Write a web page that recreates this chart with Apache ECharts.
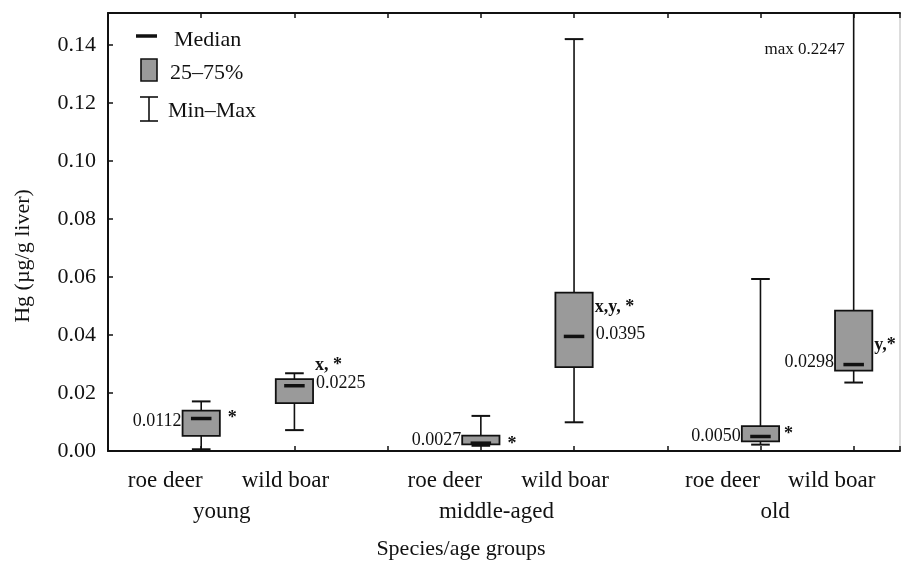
<!DOCTYPE html>
<html>
<head>
<meta charset="utf-8">
<script src="https://cdn.jsdelivr.net/npm/echarts@6/dist/echarts.min.js"></script>
<style>
  html, body { margin: 0; padding: 0; background: #ffffff; }
  #chart { width: 901px; height: 561px; }
</style>
</head>
<body>
<div id="chart"></div>
<script>
// Hg concentration in liver (µg/g) by species and age group
const species = ['roe deer', 'wild boar', 'roe deer', 'wild boar', 'roe deer', 'wild boar'];
const ageGroups = ['young', 'middle-aged', 'old'];
const slots = [1, 2, 4, 5, 7, 8];          // slot of each box on the x scale
const groupSlots = [1.5, 4.5, 7.5];        // centre slot of each age group

const minVals    = [0.0006, 0.0072, 0.0018, 0.0099, 0.0022, 0.0236];
const q1Vals     = [0.0052, 0.0165, 0.0023, 0.0289, 0.0033, 0.0277];
const medianVals = [0.0112, 0.0225, 0.0027, 0.0395, 0.0050, 0.0298];
const q3Vals     = [0.0139, 0.0248, 0.0053, 0.0546, 0.0086, 0.0484];
const maxVals    = [0.0171, 0.0268, 0.0121, 0.1420, 0.0593, 0.2247];

const marks = ['*', 'x, *', '*', 'x,y, *', '*', 'y,*'];
const yTicks = [0, 0.02, 0.04, 0.06, 0.08, 0.10, 0.12, 0.14];

// placement of the text beside each box
const labelLayout = [
  { medSide: 'left',  medDy: 3,  markAt: 'median', markDx: 8, markDy: 0 },
  { medSide: 'right', medDy: -2, markAt: 'max',    markDx: 2, markDy: -8 },
  { medSide: 'left',  medDy: -3, markAt: 'q1',     markDx: 8, markDy: 0 },
  { medSide: 'right', medDy: -2, markAt: 'q3',     markDx: 2, markDy: 15 },
  { medSide: 'left',  medDy: 0,  markAt: 'median', markDx: 5, markDy: -2 },
  { medSide: 'left',  medDy: -2, markAt: 'median', markDx: 2, markDy: -19 }
];

const FONT = '"Liberation Serif", "Times New Roman", serif';
const INK = '#111111';
const BOX_FILL = '#9a9a9a';

const chart = echarts.init(document.getElementById('chart'), null, { renderer: 'canvas' });

const boxData = slots.map((s, i) => [s, minVals[i], q1Vals[i], medianVals[i], q3Vals[i], maxVals[i], i]);

function renderBox(params, api) {
  const x = api.value(0);
  const unit = api.size([1, 0])[0];
  const half = unit * 0.2;
  const capHalf = unit * 0.1;
  const medHalf = unit * 0.11;
  const pMin = api.coord([x, api.value(1)]);
  const pQ1 = api.coord([x, api.value(2)]);
  const pMed = api.coord([x, api.value(3)]);
  const pQ3 = api.coord([x, api.value(4)]);
  const pMax = api.coord([x, api.value(5)]);
  const cx = pMed[0];
  const lineStyle = { stroke: INK, lineWidth: 1.6 };
  const children = [
    { type: 'line', shape: { x1: cx, y1: pQ1[1], x2: cx, y2: pMin[1] }, style: lineStyle },
    { type: 'line', shape: { x1: cx, y1: pQ3[1], x2: cx, y2: pMax[1] }, style: lineStyle },
    { type: 'line', shape: { x1: cx - capHalf, y1: pMin[1], x2: cx + capHalf, y2: pMin[1] }, style: { stroke: INK, lineWidth: 2 } },
    { type: 'line', shape: { x1: cx - capHalf, y1: pMax[1], x2: cx + capHalf, y2: pMax[1] }, style: { stroke: INK, lineWidth: 2 } },
    { type: 'rect', shape: { x: cx - half, y: pQ3[1], width: half * 2, height: pQ1[1] - pQ3[1] },
      style: { fill: BOX_FILL, stroke: INK, lineWidth: 1.8 } },
    { type: 'line', shape: { x1: cx - medHalf, y1: pMed[1], x2: cx + medHalf, y2: pMed[1] }, style: { stroke: INK, lineWidth: 3.5 } }
  ];
  return { type: 'group', children: children };
}

function renderLabels(params, api) {
  const x = api.value(0);
  const i = api.value(6);
  const lay = labelLayout[i];
  const unit = api.size([1, 0])[0];
  const half = unit * 0.2;
  const pts = {
    median: api.coord([x, api.value(3)]),
    q1: api.coord([x, api.value(2)]),
    q3: api.coord([x, api.value(4)]),
    max: api.coord([x, Math.min(api.value(5), 0.151)])
  };
  const cx = pts.median[0];
  const medText = api.value(3).toFixed(4);
  const children = [];
  children.push({
    type: 'text',
    style: {
      text: medText,
      x: lay.medSide === 'left' ? cx - half - 1 : cx + half + 3,
      y: pts.median[1] + lay.medDy,
      align: lay.medSide === 'left' ? 'right' : 'left',
      verticalAlign: 'middle',
      font: '18px ' + FONT,
      fill: INK
    }
  });
  const mp = pts[lay.markAt];
  children.push({
    type: 'text',
    style: {
      text: marks[i],
      x: cx + half + lay.markDx,
      y: mp[1] + lay.markDy,
      align: 'left',
      verticalAlign: 'middle',
      font: 'bold 18px ' + FONT,
      fill: INK
    }
  });
  if (api.value(5) > 0.151) {
    children.push({
      type: 'text',
      style: {
        text: 'max ' + api.value(5).toFixed(4),
        x: cx - 9,
        y: 50,
        align: 'right',
        verticalAlign: 'middle',
        font: '17px ' + FONT,
        fill: INK
      }
    });
  }
  return { type: 'group', children: children };
}

const option = {
  animation: false,
  backgroundColor: '#ffffff',
  grid: { left: 108, right: 1, top: 13, bottom: 110, show: true, borderColor: '#bbbbbb', borderWidth: 1 },
  xAxis: [
    {
      type: 'value', min: 0, max: 8.497, interval: 1, position: 'bottom',
      axisLine: { show: true, onZero: false, lineStyle: { color: INK, width: 2 } },
      axisTick: { show: true, inside: true, length: 5, lineStyle: { color: INK, width: 1.5 } },
      axisLabel: { show: false },
      splitLine: { show: false }
    },
    {
      type: 'value', min: 0, max: 8.497, interval: 1, position: 'top',
      axisLine: { show: true, onZero: false, lineStyle: { color: INK, width: 2 } },
      axisTick: { show: true, inside: true, length: 5, lineStyle: { color: INK, width: 1.5 } },
      axisLabel: { show: false },
      splitLine: { show: false }
    }
  ],
  yAxis: {
    type: 'value', min: 0, max: 0.151, interval: 0.02,
    axisLine: { show: true, onZero: false, lineStyle: { color: INK, width: 2 } },
    axisTick: { show: true, inside: true, length: 5, lineStyle: { color: INK, width: 1.5 } },
    axisLabel: {
      margin: 12, fontFamily: FONT, fontSize: 22, color: INK,
      formatter: v => {
        const t = yTicks.find(k => Math.abs(k - v) < 1e-9);
        return t === undefined ? '' : t.toFixed(2);
      }
    },
    splitLine: { show: false }
  },
  series: [
    { type: 'custom', clip: true, renderItem: renderBox, data: boxData, encode: { x: 0, y: [1, 2, 3, 4, 5] }, z: 2 },
    { type: 'custom', clip: false, renderItem: renderLabels, data: boxData, encode: { x: 0, y: 3 }, z: 3 }
  ]
};
chart.setOption(option);

// category and group labels below the axis, placed from the x scale
const speciesDx = [-36, -9, -36, -9, -38, -22];
const groupDx = [-26, -31, -32];
const graphics = [];
species.forEach((name, i) => {
  const px = chart.convertToPixel({ xAxisIndex: 0 }, slots[i]);
  graphics.push({ type: 'text', x: px + speciesDx[i], y: 481,
    style: { text: name, font: '23px ' + FONT, fill: INK, align: 'center', verticalAlign: 'middle' } });
});
ageGroups.forEach((name, g) => {
  const px = chart.convertToPixel({ xAxisIndex: 0 }, groupSlots[g]);
  graphics.push({ type: 'text', x: px + groupDx[g], y: 512,
    style: { text: name, font: '23px ' + FONT, fill: INK, align: 'center', verticalAlign: 'middle' } });
});
graphics.push({ type: 'text', x: 461, y: 549,
  style: { text: 'Species/age groups', font: '22px ' + FONT, fill: INK, align: 'center', verticalAlign: 'middle' } });

// vertical axis title
graphics.push({ type: 'text', x: 23, y: 256, rotation: Math.PI / 2,
  style: { text: 'Hg (µg/g liver)', font: '22px ' + FONT, fill: INK, align: 'center', verticalAlign: 'middle' } });

// legend: median, interquartile box, whisker range
graphics.push({ type: 'line', shape: { x1: 136, y1: 36, x2: 157, y2: 36 }, style: { stroke: INK, lineWidth: 3.5 } });
graphics.push({ type: 'text', x: 174, y: 40, style: { text: 'Median', font: '22px ' + FONT, fill: INK, align: 'left', verticalAlign: 'middle' } });
graphics.push({ type: 'rect', shape: { x: 141, y: 59, width: 16, height: 22 }, style: { fill: BOX_FILL, stroke: INK, lineWidth: 1.6 } });
graphics.push({ type: 'text', x: 170, y: 73, style: { text: '25–75%', font: '22px ' + FONT, fill: INK, align: 'left', verticalAlign: 'middle' } });
graphics.push({ type: 'line', shape: { x1: 149, y1: 97, x2: 149, y2: 121 }, style: { stroke: INK, lineWidth: 1.6 } });
graphics.push({ type: 'line', shape: { x1: 140, y1: 97, x2: 158, y2: 97 }, style: { stroke: INK, lineWidth: 1.6 } });
graphics.push({ type: 'line', shape: { x1: 140, y1: 121, x2: 158, y2: 121 }, style: { stroke: INK, lineWidth: 1.6 } });
graphics.push({ type: 'text', x: 168, y: 111, style: { text: 'Min–Max', font: '22px ' + FONT, fill: INK, align: 'left', verticalAlign: 'middle' } });

chart.setOption({ graphic: graphics });
</script>
</body>
</html>
